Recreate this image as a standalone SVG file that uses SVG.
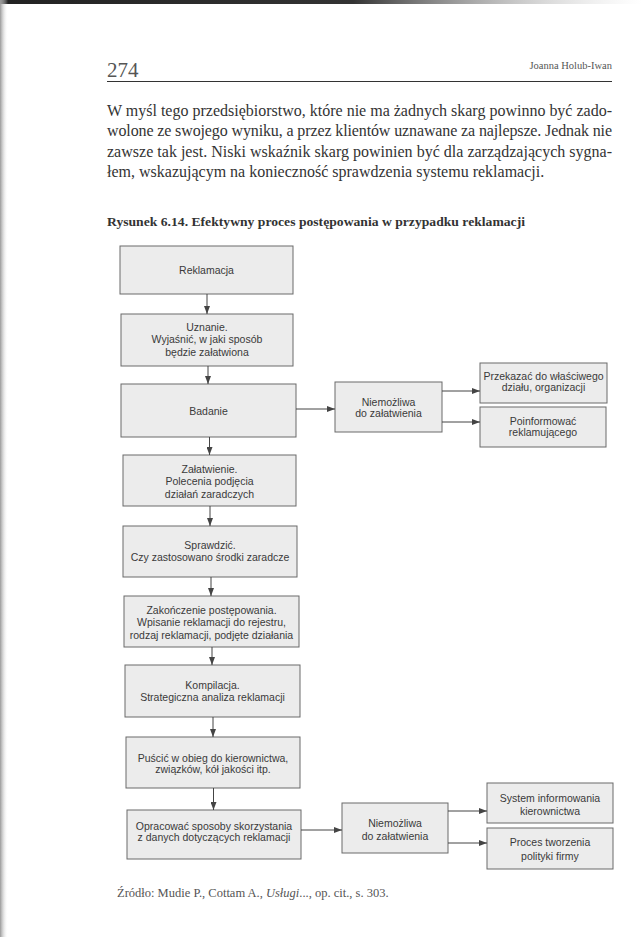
<svg xmlns="http://www.w3.org/2000/svg" width="642" height="937" viewBox="0 0 642 937">
<defs>
<linearGradient id="topbar" x1="0" y1="0" x2="1" y2="0">
<stop offset="0" stop-color="#222"/><stop offset="0.55" stop-color="#333"/><stop offset="1" stop-color="#bbb" stop-opacity="0"/>
</linearGradient>
<linearGradient id="leftedge" x1="0" y1="0" x2="1" y2="0">
<stop offset="0" stop-color="#999"/><stop offset="1" stop-color="#fff" stop-opacity="0"/>
</linearGradient>
<marker id="ah" viewBox="0 0 8 6" refX="8" refY="3" markerWidth="8" markerHeight="6" markerUnits="userSpaceOnUse" orient="auto">
<path d="M0,0 L8,3 L0,6 z" fill="#444"/>
</marker>
</defs>
<style>
.page{font-family:"Liberation Serif","Times New Roman",serif;fill:#333}
.box rect{fill:#ececec;stroke:#6a6a6a;stroke-width:1}
.box text{font-family:"Liberation Sans",Arial,sans-serif;font-size:10.5px;fill:#3a3a3a;text-anchor:middle}
.conn line{stroke:#444;stroke-width:1;marker-end:url(#ah)}
</style>
<rect width="642" height="937" fill="#fff"/>
<rect x="0" y="0" width="642" height="4" fill="url(#topbar)"/>
<rect x="0" y="0" width="8" height="937" fill="url(#leftedge)"/>

<g id="header" class="page">
<text x="107" y="77" font-size="21" fill="#555">274</text>
<text x="612" y="69" font-size="10.5" text-anchor="end" fill="#555">Joanna Holub-Iwan</text>
<line x1="107" y1="81.5" x2="612" y2="81.5" stroke="#333" stroke-width="1"/>
</g>

<g id="body" class="page" font-size="16" fill="#555">
<text x="107" y="116" textLength="505" lengthAdjust="spacing">W myśl tego przedsiębiorstwo, które nie ma żadnych skarg powinno być zado-</text>
<text x="107" y="136" textLength="505" lengthAdjust="spacing">wolone ze swojego wyniku, a przez klientów uznawane za najlepsze. Jednak nie</text>
<text x="107" y="157" textLength="505" lengthAdjust="spacing">zawsze tak jest. Niski wskaźnik skarg powinien być dla zarządzających sygna-</text>
<text x="107" y="177">łem, wskazującym na konieczność sprawdzenia systemu reklamacji.</text>
</g>

<g id="caption" class="page">
<text x="107" y="226" font-size="13.5" font-weight="bold" fill="#333" textLength="418" lengthAdjust="spacingAndGlyphs">Rysunek 6.14.  Efektywny proces postępowania w przypadku reklamacji</text>
</g>

<g id="n1" class="box"><rect x="120" y="246" width="173" height="48"/>
<text x="206.5" y="273.5">Reklamacja</text></g>

<g id="n2" class="box"><rect x="121" y="314" width="172" height="52"/>
<text x="207" y="331">Uznanie.</text>
<text x="207" y="343.3">Wyjaśnić, w jaki sposób</text>
<text x="207" y="355.6">będzie załatwiona</text></g>

<g id="n3" class="box"><rect x="121" y="384" width="175" height="53"/>
<text x="208.5" y="415">Badanie</text></g>

<g id="n4" class="box"><rect x="123" y="455" width="173" height="51"/>
<text x="209.5" y="473">Załatwienie.</text>
<text x="209.5" y="485.3">Polecenia podjęcia</text>
<text x="209.5" y="497.6">działań zaradczych</text></g>

<g id="n5" class="box"><rect x="123" y="526" width="174" height="51"/>
<text x="210" y="549">Sprawdzić.</text>
<text x="210" y="561.3">Czy zastosowano środki zaradcze</text></g>

<g id="n6" class="box"><rect x="124" y="596" width="175" height="51"/>
<text x="211.5" y="614">Zakończenie postępowania.</text>
<text x="211.5" y="626.3">Wpisanie reklamacji do rejestru,</text>
<text x="211.5" y="638.6">rodzaj reklamacji, podjęte działania</text></g>

<g id="n7" class="box"><rect x="125" y="665" width="175" height="52"/>
<text x="212.5" y="689">Kompilacja.</text>
<text x="212.5" y="701.3">Strategiczna analiza reklamacji</text></g>

<g id="n8" class="box"><rect x="126" y="737" width="174" height="51"/>
<text x="213" y="761.5">Puścić w obieg do kierownictwa,</text>
<text x="213" y="773">związków, kół jakości itp.</text></g>

<g id="n9" class="box"><rect x="127" y="810" width="174" height="49"/>
<text x="214" y="829.5">Opracować sposoby skorzystania</text>
<text x="214" y="841.3">z danych dotyczących reklamacji</text></g>

<g id="n10" class="box"><rect x="335" y="382" width="107" height="50"/>
<text x="388.5" y="405.5">Niemożliwa</text>
<text x="388.5" y="416.5">do załatwienia</text></g>

<g id="n11" class="box"><rect x="480" y="363" width="127" height="40"/>
<text x="543.5" y="380">Przekazać do właściwego</text>
<text x="543.5" y="390.7">działu, organizacji</text></g>

<g id="n12" class="box"><rect x="480" y="407" width="126" height="40"/>
<text x="543" y="424.5">Poinformować</text>
<text x="543" y="435.5">reklamującego</text></g>

<g id="n13" class="box"><rect x="342" y="803" width="106" height="50"/>
<text x="395" y="827">Niemożliwa</text>
<text x="395" y="839.7">do załatwienia</text></g>

<g id="n14" class="box"><rect x="487" y="783" width="126" height="40"/>
<text x="550" y="801.5">System informowania</text>
<text x="550" y="814.7">kierownictwa</text></g>

<g id="n15" class="box"><rect x="487" y="828" width="126" height="41"/>
<text x="550" y="845.5">Proces tworzenia</text>
<text x="550" y="859.7">polityki firmy</text></g>

<g id="connectors" class="conn">
<line x1="207" y1="294" x2="207" y2="314"/>
<line x1="208" y1="366" x2="208" y2="384"/>
<line x1="209.5" y1="437" x2="209.5" y2="455"/>
<line x1="210" y1="506" x2="210" y2="526"/>
<line x1="211" y1="577" x2="211" y2="596"/>
<line x1="212" y1="647" x2="212" y2="665"/>
<line x1="213" y1="717" x2="213" y2="737"/>
<line x1="213.5" y1="788" x2="213.5" y2="810"/>
<line x1="296" y1="409" x2="335" y2="409"/>
<line x1="442" y1="391" x2="480" y2="391"/>
<line x1="442" y1="422" x2="480" y2="422"/>
<line x1="301" y1="830" x2="342" y2="830"/>
<line x1="448" y1="811" x2="487" y2="811"/>
<line x1="448" y1="843" x2="487" y2="843"/>
</g>

<g id="source" class="page">
<text x="117" y="897" font-size="12.5" fill="#555">Źródło:  Mudie P., Cottam A., <tspan font-style="italic">Usługi</tspan>..., op. cit., s. 303.</text>
</g>
</svg>
